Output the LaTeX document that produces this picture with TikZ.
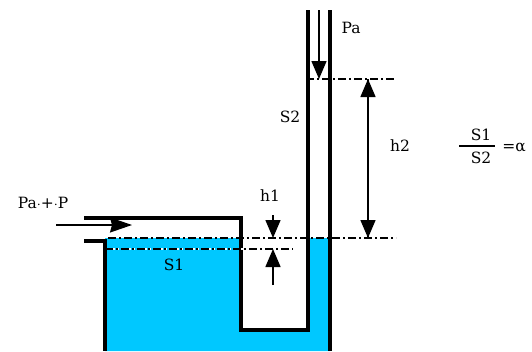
\documentclass[tikz,border=0pt]{standalone}
\usepackage{fontspec}
\setmainfont{DejaVu Serif}
\usetikzlibrary{arrows.meta}
\definecolor{fluid}{RGB}{0,200,255}
\tikzset{
  wall/.style={line width=4pt,line cap=butt,line join=miter},
  level/.style={line width=1.4pt,dash pattern=on 8pt off 3pt on 2pt off 3pt},
  levelunder/.style={line width=1.8pt,white,dash pattern=on 2pt off 2pt},
  dim/.style={line width=1.4pt,-{Triangle[length=18pt,width=15pt]}},
  flowhead/.style={line width=1.4pt,-{Stealth[length=22pt,width=15pt,inset=2pt]}},
  lbl/.style={font=\fontsize{15.5}{17}\selectfont,inner sep=0pt}
}
\begin{document}
\begin{tikzpicture}[x=1pt,y=-1pt]
\useasboundingbox (0,0) rectangle (532,351);
% coordinates
\coordinate (inS) at (56,225);
\coordinate (inE) at (132,225);
\coordinate (paS) at (319,10);
\coordinate (paE) at (319,79);
\coordinate (h2top) at (368,79);
\coordinate (h2bot) at (368,238);
\coordinate (h1aS) at (273,215);
\coordinate (h1aE) at (273,238);
\coordinate (h1bS) at (273,285);
\coordinate (h1bE) at (273,249);
\coordinate (u1) at (108,238);
\coordinate (u2) at (396,238);
\coordinate (l1) at (105,249);
\coordinate (l2) at (293,249);
\coordinate (lw) at (243,249);
\coordinate (t1) at (306,79);
\coordinate (t2) at (396,79);
\coordinate (fa) at (459,146);
\coordinate (fb) at (495,146);
% fluid
\fill[fluid] (105,238) -- (241,238) -- (241,330) -- (308,330) -- (308,238) -- (330,238) -- (330,351) -- (105,351) -- cycle;
% walls
\draw[wall] (84,218) -- (241,218) -- (241,330) -- (308,330) -- (308,10);
\draw[wall] (330,10) -- (330,351);
\draw[wall] (84,240.5) -- (105,240.5) -- (105,351);
% levels
\draw[levelunder] (l1) -- (lw);
\draw[level] (u1) -- (u2);
\draw[level] (l1) -- (l2);
\draw[level] (t1) -- (t2);
% arrows
\draw[flowhead] (inS) -- (inE);
\draw[dim] (paS) -- (paE);
\draw[dim] (h2bot) -- (h2top);
\draw[dim] (h2top) -- (h2bot);
\draw[dim] (h1aS) -- (h1aE);
\draw[dim] (h1bS) -- (h1bE);
% labels
\node[lbl] (tPaP) at (43,202.5) {Pa$\cdot$+$\cdot$P};
\node[lbl] (tS1) at (174,265) {S1};
\node[lbl] (tS2) at (290,117) {S2};
\node[lbl] (tPa) at (351,28) {Pa};
\node[lbl] (th1) at (270,196) {h1};
\node[lbl] (th2) at (400,146) {h2};
\node[lbl] (tf1) at (481,135) {S1};
\node[lbl] (tf2) at (481,158) {S2};
\node[lbl] (tal) at (514,148) {=α};
\draw[line width=1.4pt] (fa) -- (fb);
\end{tikzpicture}
\end{document}
